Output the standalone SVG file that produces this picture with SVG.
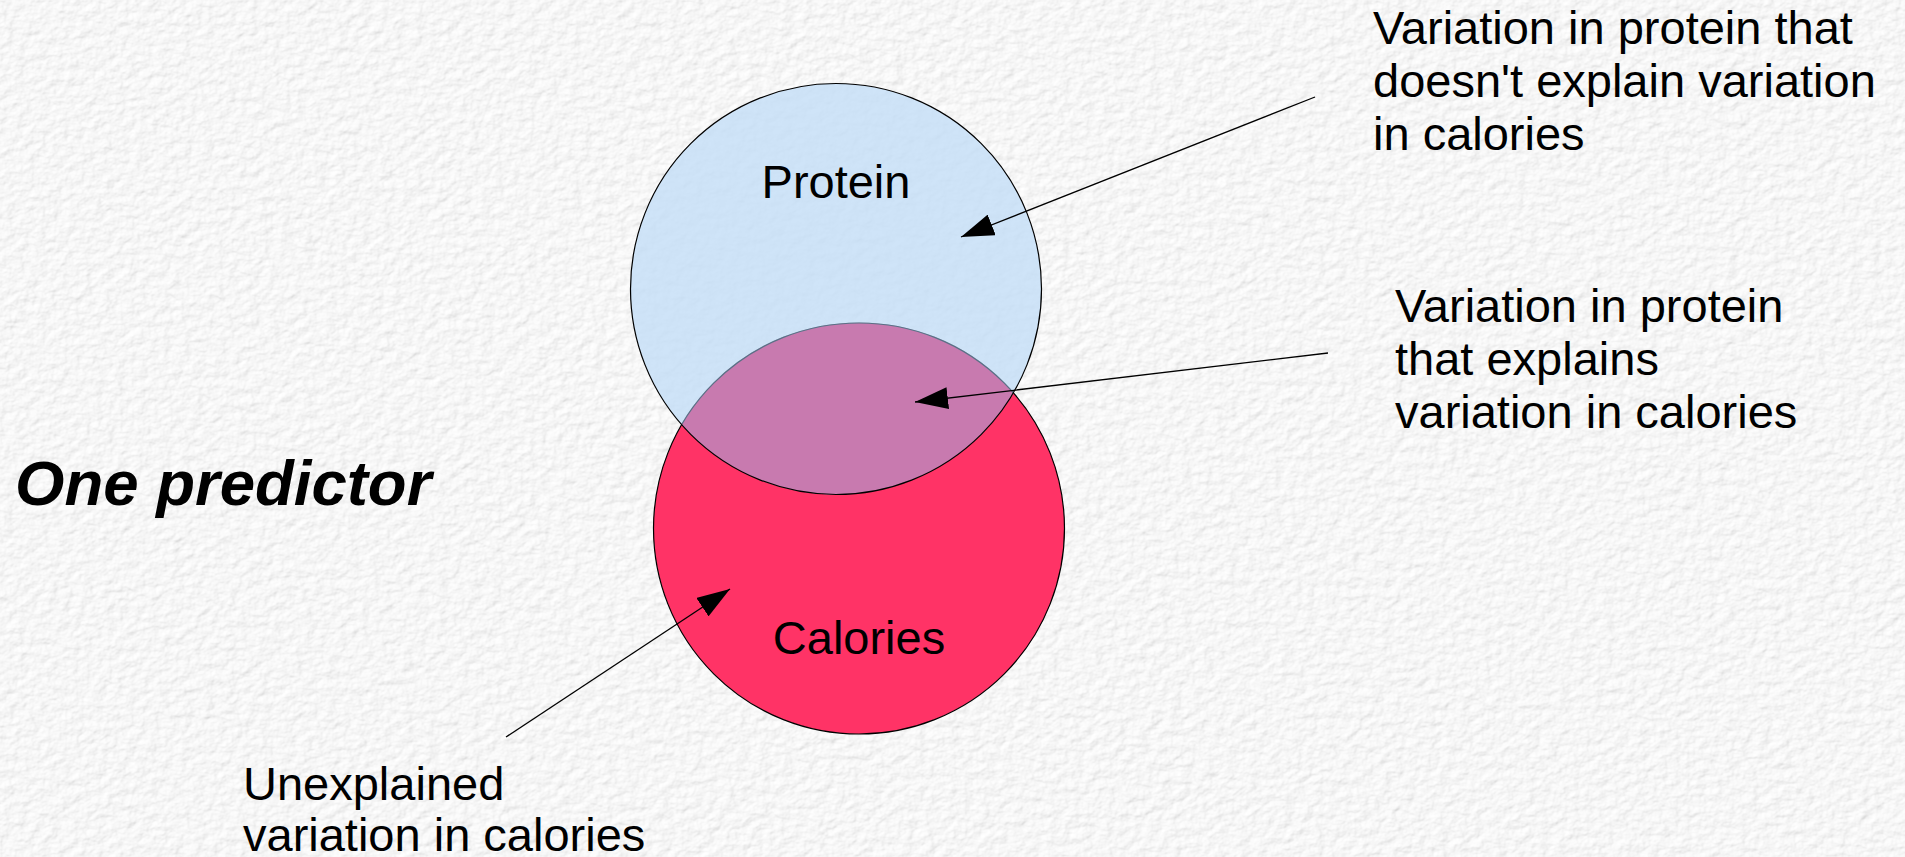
<svg xmlns="http://www.w3.org/2000/svg" width="1905" height="857" viewBox="0 0 1905 857">
<style>
  .lbl { font-family: "Liberation Sans", Arial, sans-serif; font-size: 47px; fill: #000; }
  .title { font-family: "Liberation Sans", Arial, sans-serif; font-size: 63.5px; font-weight: bold; font-style: italic; fill: #000; }
  .circ { stroke: #000; stroke-width: 1.2; }
  .conn { stroke: #000; stroke-width: 1.3; fill: none; marker-end: url(#arrow); }
</style>
<defs>
  <filter id="paper" x="0" y="0" width="1905" height="857" filterUnits="userSpaceOnUse">
    <feTurbulence type="fractalNoise" baseFrequency="0.09 0.12" numOctaves="3" seed="7" result="n"/>
    <feDiffuseLighting in="n" lighting-color="#ffffff" surfaceScale="1.2" result="l">
      <feDistantLight azimuth="225" elevation="68"/>
    </feDiffuseLighting>
  </filter>
  <clipPath id="proteinClip">
    <circle cx="836" cy="289" r="205.5"/>
  </clipPath>
  <marker id="arrow" viewBox="0 0 33 22" refX="33" refY="11" markerWidth="33" markerHeight="22" markerUnits="userSpaceOnUse" orient="auto">
    <path d="M0,0 L33,11 L0,22 z" fill="#000"/>
  </marker>
</defs>
<rect x="0" y="0" width="1905" height="857" fill="#f0f0f0"/>
<rect x="0" y="0" width="1905" height="857" filter="url(#paper)"/>

<g id="calories">
  <circle class="circ" cx="859" cy="528.5" r="205.5" fill="#ff3366"/>
  <text class="lbl" x="859" y="654" text-anchor="middle">Calories</text>
</g>
<g id="protein">
  <circle cx="836" cy="289" r="205.5" fill="#c4def7" fill-opacity="0.82"/>
  <circle cx="859" cy="528.5" r="205.5" fill="#c87aaf" stroke="#5c6f86" stroke-width="1.2" clip-path="url(#proteinClip)"/>
  <circle class="circ" cx="836" cy="289" r="205.5" fill="none"/>
  <text class="lbl" x="836" y="198" text-anchor="middle">Protein</text>
</g>

<g id="title">
  <text class="title" x="15" y="505">One predictor</text>
</g>
<g id="label-unexplained-protein">
  <text class="lbl" x="1373" y="44">Variation in protein that</text>
  <text class="lbl" x="1373" y="97">doesn't explain variation</text>
  <text class="lbl" x="1373" y="150">in calories</text>
</g>
<g id="label-explained">
  <text class="lbl" x="1395" y="322">Variation in protein</text>
  <text class="lbl" x="1395" y="375">that explains</text>
  <text class="lbl" x="1395" y="428">variation in calories</text>
</g>
<g id="label-unexplained-calories">
  <text class="lbl" x="243" y="800">Unexplained</text>
  <text class="lbl" x="243" y="851">variation in calories</text>
</g>

<g id="connectors">
  <line class="conn" x1="1315" y1="97" x2="961" y2="237"/>
  <line class="conn" x1="1328" y1="353" x2="915" y2="402"/>
  <line class="conn" x1="506" y1="737" x2="730" y2="589"/>
</g>
</svg>
